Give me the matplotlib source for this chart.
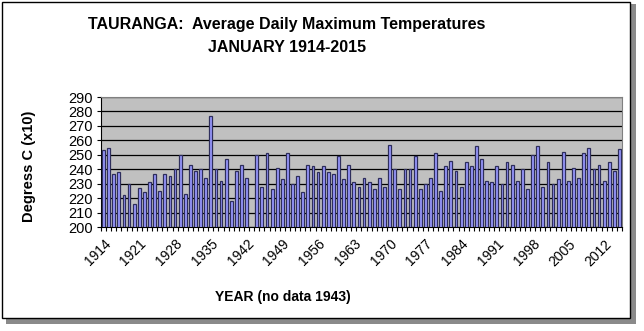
import numpy as np
import matplotlib

matplotlib.use("Agg")
import matplotlib.pyplot as plt
from matplotlib.patches import Rectangle

plt.rcParams["font.family"] = ["Liberation Sans", "DejaVu Sans"]

# January mean daily maximum, degrees C x10 (1943 missing)
years = list(range(1914, 2016))
tmax_x10 = [
    253, 255, 237, 238, 222, 230, 216, 227, 224, 231,  # 1914-1923
    237, 225, 237, 235, 240, 250, 223, 243, 239, 240,  # 1924-1933
    234, 277, 240, 232, 247, 218, 239, 243, 234, np.nan,  # 1934-1943
    250, 228, 251, 226, 241, 233, 251, 230, 235, 224,  # 1944-1953
    243, 242, 238, 242, 238, 237, 249, 233, 243, 231,  # 1954-1963
    228, 234, 231, 226, 234, 228, 257, 240, 226, 240,  # 1964-1973
    240, 249, 226, 230, 234, 251, 225, 242, 246, 239,  # 1974-1983
    228, 245, 242, 256, 247, 232, 231, 242, 230, 245,  # 1984-1993
    243, 232, 240, 226, 250, 256, 228, 245, 230, 233,  # 1994-2003
    252, 232, 241, 234, 251, 255, 240, 243, 232, 245,  # 2004-2013
    239, 254,  # 2014-2015
]
yticks = list(range(200, 300, 10))
label_years = years[::7]

W, H = 644, 331
fig = plt.figure(figsize=(W / 100, H / 100), dpi=100)
fig.patch.set_facecolor("white")

# framed chart box with drop shadow
fig.patches.append(Rectangle((6 / W, 1 - 324 / H), 630 / W, 320 / H,
                             transform=fig.transFigure, facecolor="#8a8a8a",
                             edgecolor="none", zorder=0))
fig.patches.append(Rectangle((2 / W, 1 - 318 / H), 628 / W, 316 / H,
                             transform=fig.transFigure, facecolor="white",
                             edgecolor="black", linewidth=1.0, zorder=1))

ax = fig.add_axes([101 / W, 1 - 227 / H, 521 / W, 130 / H])
ax.set_zorder(2)
ax.set_facecolor("#c0c0c0")

x = np.arange(len(years))
ax.bar(x, tmax_x10, width=0.55, bottom=0, color="#9999ff",
       edgecolor="#2e2e5c", linewidth=0.9, zorder=3)

ax.set_xlim(-0.5, len(years) - 0.5)
ax.set_ylim(200, 290)
ax.set_yticks(yticks)
ax.yaxis.grid(True, color="black", linewidth=0.9, zorder=1)
ax.set_axisbelow(True)

ax.set_xticks([years.index(y) for y in label_years])
ax.set_xticklabels([str(y) for y in label_years], rotation=45,
                   ha="right", rotation_mode="anchor", fontsize=10)
ax.set_xticks(np.arange(-0.5, len(years), 1), minor=True)
ax.tick_params(axis="x", which="major", length=0, pad=7)
ax.tick_params(axis="x", which="minor", length=3, width=0.8, direction="out")
ax.tick_params(axis="y", length=3, width=0.8, labelsize=10.5, pad=3)

for side in ("top", "right"):
    ax.spines[side].set_color("#808080")
ax.spines["left"].set_color("black")
ax.spines["bottom"].set_color("black")

fig.text(29 / W, 1 - 166 / H, "Degress C (x10)", rotation=90,
         ha="center", va="center", fontsize=10.5, fontweight="bold")
fig.text(283 / W, 1 - 297 / H, "YEAR (no data 1943)",
         ha="center", va="center", fontsize=10, fontweight="bold")

fig.text(287 / W, 1 - 25 / H, "TAURANGA:  Average Daily Maximum Temperatures",
         ha="center", va="center", fontsize=11.5, fontweight="bold")
fig.text(287 / W, 1 - 47 / H, "JANUARY 1914-2015",
         ha="center", va="center", fontsize=11.5, fontweight="bold")

fig.savefig("out.png", dpi=100)
